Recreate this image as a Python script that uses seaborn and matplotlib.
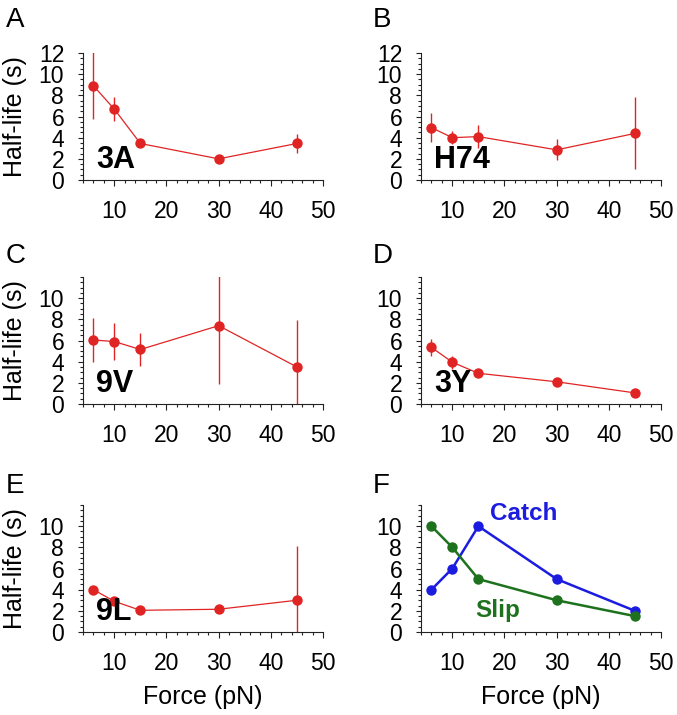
import numpy as np
import matplotlib
matplotlib.use("Agg")
import matplotlib.pyplot as plt
from matplotlib.ticker import MultipleLocator
import seaborn as sns

# data
force = [6, 10, 15, 30, 45]

life_3A = [8.9, 6.7, 3.45, 2.0, 3.45]
err_3A = [3.15, 1.1, 0.3, 0.2, 0.9]

life_H74 = [4.95, 4.0, 4.1, 2.85, 4.4]
err_H74 = [1.35, 0.6, 1.1, 1.0, 3.4]

life_9V = [6.05, 5.9, 5.15, 7.4, 3.5]
err_9V = [2.1, 1.75, 1.55, 5.5, 4.4]

life_3Y = [5.35, 3.95, 2.9, 2.1, 1.05]
err_3Y = [0.8, 0.6, 0.2, 0.15, 0.1]

life_9L = [4.0, 2.9, 2.05, 2.15, 3.0]
err_9L = [0.2, 0.2, 0.15, 0.15, 5.1]

catch = [4, 6, 10, 5, 2]
slip = [10, 8, 5, 3, 1.5]

panels = [
    ("A", "3A", life_3A, err_3A),
    ("B", "H74", life_H74, err_H74),
    ("C", "9V", life_9V, err_9V),
    ("D", "3Y", life_3Y, err_3Y),
    ("E", "9L", life_9L, err_9L),
]

sns.set_style("ticks")
plt.rcParams['font.family'] = ['Liberation Sans', 'DejaVu Sans']
plt.rcParams['text.color'] = 'black'
plt.rcParams['axes.labelcolor'] = 'black'

red = "#e02424"
blue = "#1c1ce0"
green = "#1e721e"

W, H = 677, 715
fig = plt.figure(figsize=(W / 100, H / 100), dpi=100)

lefts = [83, 421]
bottoms = [180, 404, 632]   # pixel row of y=0
ax_w, ax_h = 240, 127

def make_ax(i):
    col = i % 2
    row = i // 2
    l = lefts[col]
    b = bottoms[row]
    ax = fig.add_axes([l / W, (H - b) / H, ax_w / W, ax_h / H])
    ax.set_xlim(4, 50)
    ax.set_ylim(0, 12)
    ax.xaxis.set_major_locator(MultipleLocator(10))
    ax.xaxis.set_minor_locator(MultipleLocator(2))
    if row == 0:
        ax.set_yticks(range(0, 13, 2))
    else:
        ax.set_yticks(range(0, 11, 2))
    ax.yaxis.set_minor_locator(MultipleLocator(0.5))
    ax.tick_params(which="major", axis="y", length=3.5, width=0.8, labelsize=16.5, pad=10, colors="#222222", labelcolor="black")
    ax.tick_params(which="minor", axis="y", length=2, width=0.8, colors="#222222")
    ax.tick_params(which="major", axis="x", length=4.5, width=0.8, labelsize=16.5, pad=10, colors="#222222", labelcolor="black")
    ax.tick_params(which="minor", axis="x", length=2.5, width=0.8, colors="#222222")
    for s in ["left", "bottom"]:
        ax.spines[s].set_linewidth(0.8)
        ax.spines[s].set_color("#222222")
    sns.despine(ax=ax)
    if col == 0:
        ax.set_ylabel("Half-life (s)", fontsize=18)
        ax.yaxis.set_label_coords(-0.235, 0.5)
    if row == 2:
        ax.set_xlabel("Force (pN)", fontsize=18)
        ax.xaxis.set_label_coords(0.5, -0.42)
    letter_x = 6 if col == 0 else 373
    letter_y = [7, 243, 473][row]
    fig.text(letter_x / W, 1 - letter_y / H, "ABCDEF"[i], fontsize=20, va="top", ha="left")
    return ax

for i, (letter, name, life, err) in enumerate(panels):
    ax = make_ax(i)
    ax.errorbar(force, life, yerr=err, fmt="none", ecolor=red, elinewidth=1, zorder=2)
    sns.lineplot(x=force, y=life, ax=ax, color=red, linewidth=0.9, marker="o",
                 markersize=7.5, markeredgewidth=0, zorder=3)
    ax.text(6.5, 1.1, name, fontsize=22, fontweight="bold", va="baseline", ha="left", zorder=5)

ax = make_ax(5)
sns.lineplot(x=force, y=catch, ax=ax, color=blue, linewidth=1.8, marker="o",
             markersize=7.5, markeredgewidth=0, zorder=3)
sns.lineplot(x=force, y=slip, ax=ax, color=green, linewidth=1.8, marker="o",
             markersize=7.5, markeredgewidth=0, zorder=4)
ax.text(17.2, 10.6, "Catch", color=blue, fontsize=17.5, fontweight="bold", va="baseline", ha="left")
ax.text(14.4, 1.4, "Slip", color=green, fontsize=17.5, fontweight="bold", va="baseline", ha="left")

fig.savefig("out.png", dpi=100)
